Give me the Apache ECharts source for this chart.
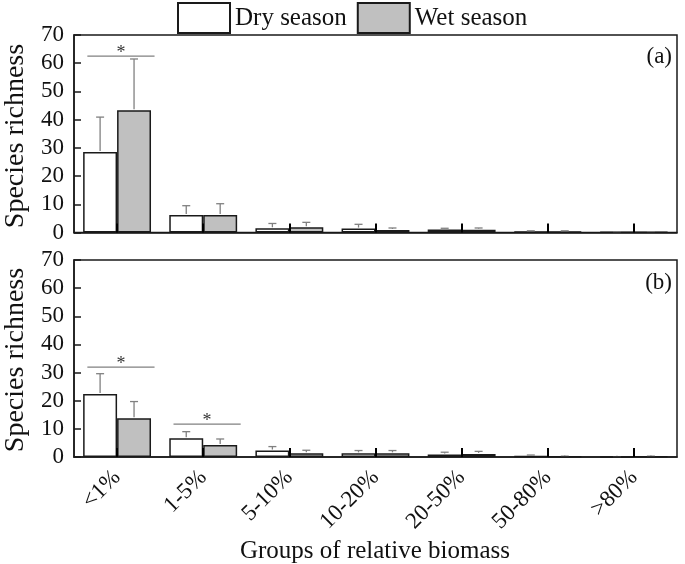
<!DOCTYPE html>
<html>
<head>
<meta charset="utf-8">
<script src="https://cdn.jsdelivr.net/npm/echarts@6/dist/echarts.min.js"></script>
<style>
    html, body { margin: 0; padding: 0; background: #fff; }
    #chart { width: 685px; height: 564px; }
</style>
</head>
<body>
<div id="chart"></div>
<script>
// 类别与数据
const categories = ['<1%', '1-5%', '5-10%', '10-20%', '20-50%', '50-80%', '>80%'];
const seasons = ['Dry season', 'Wet season'];

// (a)
const dryA = [28.5, 6.2, 1.5, 1.4, 1.1, 0.3, 0.1];
const dryASd = [12.4, 3.3, 1.7, 1.5, 0.4, 0.3, 0.1];
const wetA = [43.3, 6.2, 1.9, 0.9, 1.0, 0.3, 0.2];
const wetASd = [18.2, 4.0, 1.7, 0.7, 0.6, 0.3, 0.1];
// (b)
const dryB = [22.4, 6.7, 2.3, 1.3, 0.9, 0.3, 0.05];
const dryBSd = [7.2, 2.3, 1.4, 1.0, 0.8, 0.4, 0.05];
const wetB = [13.8, 4.3, 1.3, 1.3, 1.1, 0.2, 0.2];
const wetBSd = [5.9, 2.1, 1.1, 1.0, 0.9, 0.1, 0.1];

// 显著性标记 [类别序号, 高度]
const sigA = [[0, 62.5]];
const sigB = [[0, 31.9], [1, 11.7]];

const yTicks = [0, 10, 20, 30, 40, 50, 60, 70];

const FONT = 'Liberation Serif';
const BAR_FRACTION = 0.394;
const ERR_COLOR = '#808080';
const EDGE = '#1a1a1a';

const grids = [
    { left: 74, right: 8, top: 35, height: 197.5, show: true, borderColor: EDGE, borderWidth: 1.5 },
    { left: 74, right: 8, top: 260, height: 197, show: true, borderColor: EDGE, borderWidth: 1.5 },
];

function makeXAxis(index, showLabels) {
    return {
        type: 'category',
        gridIndex: index,
        data: categories,
        z: 5,
        axisLine: { lineStyle: { color: EDGE, width: 1.5 } },
        // v6 里类目轴刻度默认不显示，需要显式打开
        axisTick: { show: true, inside: true, alignWithLabel: true, length: 9, lineStyle: { color: '#000', width: 2 } },
        axisLabel: {
            show: showLabels,
            rotate: 45,
            margin: 17,
            color: '#111',
            fontFamily: FONT,
            fontSize: 23,
        },
    };
}

function makeYAxis(index) {
    return {
        type: 'value',
        gridIndex: index,
        min: yTicks[0],
        max: yTicks[yTicks.length - 1],
        interval: 10,
        z: 5,
        axisLine: { show: true, lineStyle: { color: EDGE, width: 1.5 } },
        axisTick: { show: true, inside: true, length: 7, lineStyle: { color: EDGE, width: 1.5 } },
        splitLine: { show: false },
        axisLabel: { color: '#111', fontFamily: FONT, fontSize: 23, margin: 10 },
    };
}

function barSerie(name, index, data, fill) {
    return {
        name: name,
        type: 'bar',
        xAxisIndex: index,
        yAxisIndex: index,
        data: data,
        barWidth: (BAR_FRACTION * 100) + '%',
        barGap: '0%',
        itemStyle: { color: fill, borderColor: EDGE, borderWidth: 1.5 },
        emphasis: { disabled: true },
        z: 2,
    };
}

// 误差线：柱顶向上延伸 sd
function errorSerie(index, means, sds, side) {
    return {
        name: 'err' + index + side,
        type: 'custom',
        xAxisIndex: index,
        yAxisIndex: index,
        data: means.map((m, i) => [i, m, sds[i]]),
        encode: { x: 0, y: 1 },
        silent: true,
        z: 3,
        renderItem: function (params, api) {
            const band = api.size([1, 0])[0];
            const base = api.coord([api.value(0), api.value(1)]);
            const top = api.coord([api.value(0), api.value(1) + api.value(2)]);
            const cx = base[0] + side * band * BAR_FRACTION / 2;
            const cap = 4;
            const style = { stroke: ERR_COLOR, lineWidth: 1.3 };
            return {
                type: 'group',
                children: [
                    { type: 'line', shape: { x1: cx, y1: base[1] - 1, x2: cx, y2: top[1] }, style: style },
                    { type: 'line', shape: { x1: cx - cap, y1: top[1], x2: cx + cap, y2: top[1] }, style: style },
                ],
            };
        },
    };
}

// 显著性横线与星号
function sigSerie(index, marks) {
    return {
        name: 'sig' + index,
        type: 'custom',
        xAxisIndex: index,
        yAxisIndex: index,
        data: marks,
        encode: { x: 0, y: 1 },
        silent: true,
        z: 4,
        renderItem: function (params, api) {
            const band = api.size([1, 0])[0];
            const p = api.coord([api.value(0), api.value(1)]);
            const cx = p[0] + band * 0.045;
            const half = band * 0.39;
            return {
                type: 'group',
                children: [
                    {
                        type: 'line',
                        shape: { x1: cx - half, y1: p[1], x2: cx + half, y2: p[1] },
                        style: { stroke: ERR_COLOR, lineWidth: 1.3 },
                    },
                    {
                        type: 'text',
                        x: cx,
                        y: p[1] - 12,
                        style: {
                            text: '*',
                            fill: '#333',
                            fontFamily: FONT,
                            fontSize: 18,
                            align: 'center',
                            verticalAlign: 'top',
                        },
                    },
                ],
            };
        },
    };
}

function yTitle(centerY) {
    return {
        type: 'text',
        x: 16,
        y: centerY,
        rotation: Math.PI / 2,
        style: {
            text: 'Species richness',
            fill: '#111',
            fontFamily: FONT,
            fontSize: 28,
            align: 'center',
            verticalAlign: 'middle',
        },
    };
}

function panelLabel(text, top) {
    return {
        type: 'text',
        right: 13,
        top: top,
        style: { text: text, fill: '#111', fontFamily: FONT, fontSize: 23 },
    };
}

const option = {
    animation: false,
    backgroundColor: '#fff',
    textStyle: { fontFamily: FONT },
    legend: {
        data: seasons,
        left: 172,
        top: -3,
        icon: 'rect',
        itemWidth: 52,
        itemHeight: 30,
        itemGap: 10,
        selectedMode: false,
        textStyle: { color: '#111', fontFamily: FONT, fontSize: 25 },
    },
    grid: grids,
    xAxis: [makeXAxis(0, false), makeXAxis(1, true)],
    yAxis: [makeYAxis(0), makeYAxis(1)],
    series: [
        barSerie(seasons[0], 0, dryA, '#ffffff'),
        barSerie(seasons[1], 0, wetA, '#c0c0c0'),
        barSerie(seasons[0], 1, dryB, '#ffffff'),
        barSerie(seasons[1], 1, wetB, '#c0c0c0'),
        errorSerie(0, dryA, dryASd, -1),
        errorSerie(0, wetA, wetASd, 1),
        errorSerie(1, dryB, dryBSd, -1),
        errorSerie(1, wetB, wetBSd, 1),
        sigSerie(0, sigA),
        sigSerie(1, sigB),
    ],
    graphic: [
        yTitle(136),
        yTitle(360),
        panelLabel('(a)', 45),
        panelLabel('(b)', 271),
        {
            type: 'text',
            x: 375,
            y: 551,
            style: {
                text: 'Groups of relative biomass',
                fill: '#111',
                fontFamily: FONT,
                fontSize: 25,
                align: 'center',
                verticalAlign: 'middle',
            },
        },
    ],
};

const chart = echarts.init(document.getElementById('chart'), null, { renderer: 'canvas' });
chart.setOption(option);
</script>
</body>
</html>
